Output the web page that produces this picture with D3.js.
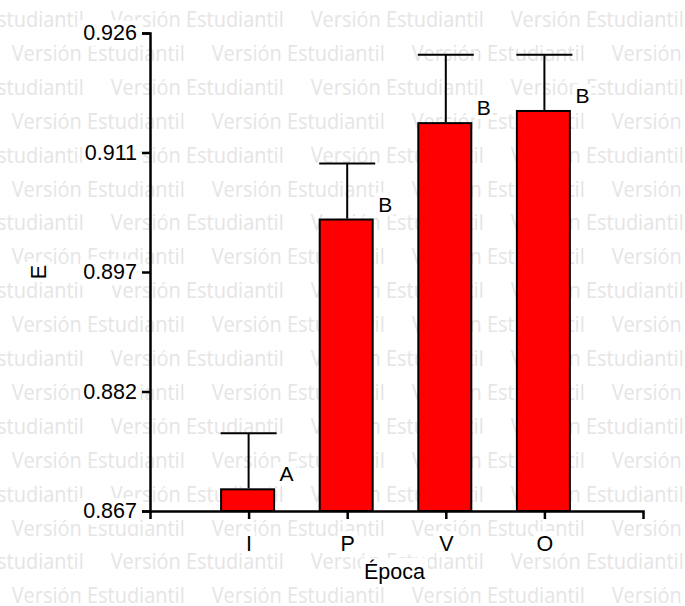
<!DOCTYPE html>
<html>
<head>
<meta charset="utf-8">
<script src="https://cdn.jsdelivr.net/npm/d3@7"></script>
<style>
  body { margin: 0; background: #fff; }
  svg { display: block; font-family: "Liberation Sans", Arial, sans-serif; }
</style>
</head>
<body>
<svg id="chart" width="685" height="606"></svg>
<script>
const categories = ['I', 'P', 'V', 'O'];
const means = [0.8698, 0.9031, 0.9150, 0.9165];
const upperErrors = [0.0068, 0.0068, 0.0083, 0.0068];
const groupLetters = ['A', 'B', 'B', 'B'];
const yTickValues = [0.867, 0.88175, 0.8965, 0.91125, 0.926];
const yTickLabels = ['0.867', '0.882', '0.897', '0.911', '0.926'];
const watermark = 'Versión Estudiantil';

const svg = d3.select('#chart');
const plotLeft = 150, plotRight = 643, plotTop = 33, plotBottom = 511;

// watermark tiles behind everything
const wm = svg.append('g')
  .attr('fill', '#e5e5e5')
  .attr('font-family', '"Open Sans", "Noto Sans", sans-serif')
  .attr('font-size', 21);
d3.range(18).forEach((row) => {
  const yy = 27 + row * 33.9;
  const start = row % 2 === 0 ? -89.3 : 11.7;
  d3.range(5).forEach((col) => {
    wm.append('text')
      .attr('x', start + col * 200)
      .attr('y', yy)
      .attr('textLength', 173)
      .attr('lengthAdjust', 'spacingAndGlyphs')
      .text(watermark);
  });
});

const x = d3.scalePoint().domain(categories).range([plotLeft, plotRight]).padding(1);
const y = d3.scaleLinear().domain([0.867, 0.926]).range([plotBottom, plotTop]);

function whiteBox(sel, pad) {
  sel.each(function () {
    const b = this.getBBox();
    d3.select(this.parentNode).insert('rect', () => this)
      .attr('transform', d3.select(this).attr('transform'))
      .attr('x', b.x - pad).attr('y', b.y - pad + 2)
      .attr('width', b.width + pad * 2).attr('height', b.height + pad * 2 - 4)
      .attr('fill', '#fff');
  });
}

const barWidth = 53;
const g = svg.append('g');

g.selectAll('.err').data(categories).enter().append('g')
  .attr('class', 'err')
  .attr('stroke', '#000').attr('stroke-width', 2)
  .each(function (d, i) {
    const cx = x(d);
    const yTop = y(means[i] + upperErrors[i]);
    d3.select(this).append('line')
      .attr('x1', cx).attr('x2', cx).attr('y1', y(means[i])).attr('y2', yTop);
    d3.select(this).append('line')
      .attr('x1', cx - 28).attr('x2', cx + 28).attr('y1', yTop).attr('y2', yTop);
  });

g.selectAll('.bar').data(categories).enter().append('rect')
  .attr('class', 'bar')
  .attr('x', d => x(d) - barWidth / 2 - 1)
  .attr('y', (d, i) => y(means[i]) + 1)
  .attr('width', barWidth)
  .attr('height', (d, i) => plotBottom - y(means[i]) - 1)
  .attr('fill', '#ff0000')
  .attr('stroke', '#000')
  .attr('stroke-width', 2);

const letters = g.selectAll('.letter').data(categories).enter().append('text')
  .attr('class', 'letter')
  .attr('x', d => x(d) + 31)
  .attr('y', (d, i) => y(means[i]) - 7)
  .attr('font-size', 21)
  .attr('fill', '#000')
  .text((d, i) => groupLetters[i]);
whiteBox(letters, 2);

const yAxis = svg.append('g')
  .attr('transform', `translate(${plotLeft},0)`)
  .call(d3.axisLeft(y).tickValues(yTickValues)
    .tickFormat((d, i) => yTickLabels[i]).tickSize(8).tickSizeOuter(8).tickPadding(5));

const xAxis = svg.append('g')
  .attr('transform', `translate(0,${plotBottom})`)
  .call(d3.axisBottom(x).tickSize(8).tickSizeOuter(8).tickPadding(17));

[yAxis, xAxis].forEach((ax) => {
  ax.selectAll('path, line').attr('stroke', '#000').attr('stroke-width', 2.5);
  ax.selectAll('text').attr('font-size', 21.5).attr('fill', '#000')
    .attr('font-family', '"Liberation Sans", Arial, sans-serif');
  whiteBox(ax.selectAll('text'), 3);
});

const yLabel = svg.append('text')
  .attr('transform', `translate(46,${(plotTop + plotBottom) / 2}) rotate(-90)`)
  .attr('text-anchor', 'middle')
  .attr('font-size', 21.5)
  .text('E');
whiteBox(yLabel, 3);

const xLabel = svg.append('text')
  .attr('x', (plotLeft + plotRight) / 2 - 2)
  .attr('y', 579)
  .attr('text-anchor', 'middle')
  .attr('font-size', 21.5)
  .text('Época');
whiteBox(xLabel, 3);
</script>
</body>
</html>
